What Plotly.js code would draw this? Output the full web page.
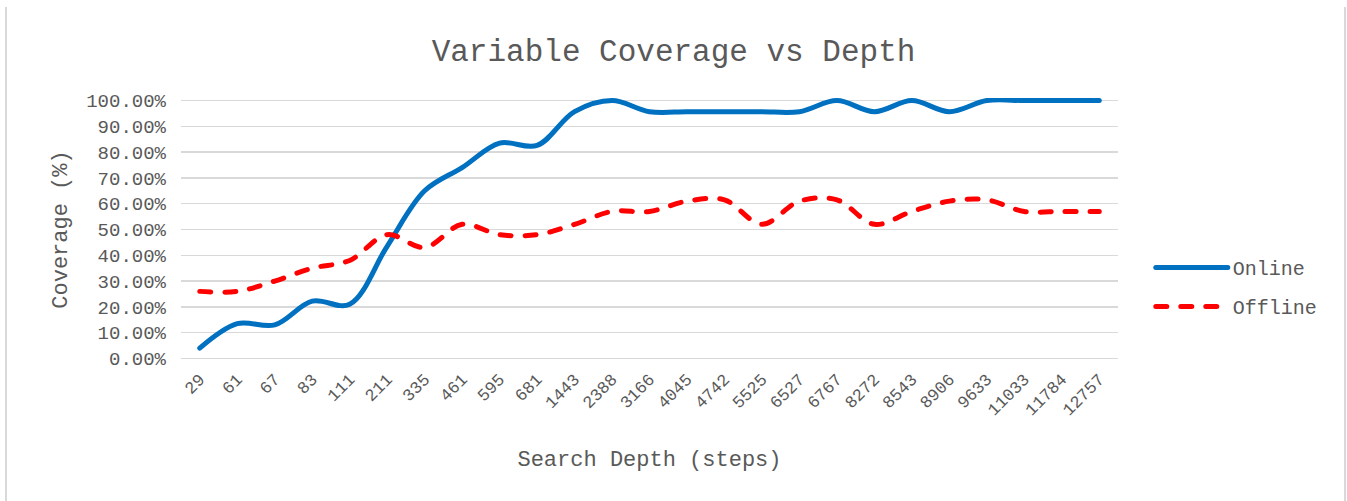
<!DOCTYPE html>
<html>
<head>
<meta charset="utf-8">
<script src="https://cdn.plot.ly/plotly-3.0.1.min.js"></script>
<style>
  html, body { margin: 0; padding: 0; background: #fff; }
  #wrap { position: relative; width: 1347px; height: 501px; }
  #chart { width: 1347px; height: 501px; }
  #frame { position: absolute; left: 5px; top: 7px; width: 1341px; height: 494px;
           border-left: 2px solid #D9D9D9; border-right: 2px solid #D9D9D9; box-sizing: border-box; pointer-events: none; }
  .scatterlayer path.js-line, .legend path.js-line { stroke-linecap: round; stroke-linejoin: round; }
</style>
</head>
<body>
<div id="wrap">
  <div id="chart"></div>
  <div id="frame"></div>
</div>
<script>
// Categories (search depth in steps)
const depthLabels = ["29","61","67","83","111","211","335","461","595","681","1443","2388","3166",
  "4045","4742","5525","6527","6767","8272","8543","8906","9633","11033","11784","12757"];
// Coverage values (fractions)
const onlineCoverage = [0.04,0.135,0.13,0.222,0.21,0.435,0.65,0.74,0.835,0.826,0.957,1.0,0.957,
  0.957,0.957,0.957,0.957,1.0,0.957,1.0,0.957,1.0,1.0,1.0,1.0];
const offlineCoverage = [0.26,0.26,0.30,0.35,0.38,0.48,0.43,0.52,0.48,0.48,0.52,0.57,0.57,
  0.61,0.615,0.52,0.61,0.615,0.52,0.57,0.61,0.615,0.57,0.57,0.57];
const seriesNames = ["Online","Offline"];
const yTicks = [0,0.1,0.2,0.3,0.4,0.5,0.6,0.7,0.8,0.9,1.0];

const FONT = "Liberation Mono, DejaVu Sans Mono, monospace";
const GREY = "#595959";

const traces = [
  { x: depthLabels, y: onlineCoverage, name: seriesNames[0], type: "scatter", mode: "lines",
    line: { color: "#0070C0", width: 5, shape: "spline", smoothing: 1 }, legendgroup: "a" },
  { x: depthLabels, y: offlineCoverage, name: seriesNames[1], type: "scatter", mode: "lines",
    line: { color: "#FF0000", width: 5, shape: "spline", smoothing: 1, dash: "11px,14px" }, legendgroup: "b" }
];

const layout = {
  width: 1347, height: 501,
  paper_bgcolor: "#fff", plot_bgcolor: "#fff",
  margin: { l: 181, r: 229, t: 98.4, b: 139.9, pad: 0 },
  font: { family: FONT, color: GREY },
  title: { text: "Variable Coverage vs Depth", x: 0.5, xanchor: "center", y: 0.9, yanchor: "middle",
           yref: "container", font: { family: FONT, size: 31, color: GREY } },
  xaxis: {
    type: "category", range: [-0.5, depthLabels.length - 0.5], tickangle: -45,
    showgrid: false, zeroline: false, showline: false,
    ticks: "", tickfont: { family: FONT, size: 17, color: GREY }, ticklabelstandoff: 4,
    title: { text: "Search Depth (steps)", font: { family: FONT, size: 22, color: GREY }, standoff: 31 },
    fixedrange: true
  },
  yaxis: {
    range: [-0.01, 1.01], tickvals: yTicks, tickformat: ".2%", showgrid: true, gridcolor: "#D9D9D9",
    gridwidth: 1.5, zeroline: false, showline: false, ticks: "", ticklabelstandoff: 14,
    tickfont: { family: FONT, size: 19, color: GREY },
    title: { text: "Coverage (%)", font: { family: FONT, size: 22, color: GREY }, standoff: 12 },
    fixedrange: true
  },
  showlegend: true,
  legend: { x: 1.035, xanchor: "left", y: 0.43, yanchor: "top", font: { family: FONT, size: 20, color: GREY },
            itemwidth: 72, tracegroupgap: 10, bgcolor: "rgba(0,0,0,0)" }
};

Plotly.newPlot("chart", traces, layout, { displayModeBar: false, staticPlot: true });
</script>
</body>
</html>
